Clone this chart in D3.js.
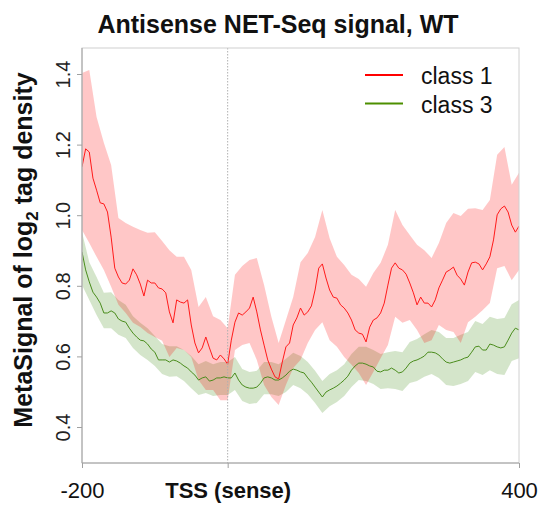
<!DOCTYPE html>
<html><head><meta charset="utf-8">
<script src="https://cdn.jsdelivr.net/npm/d3@7"></script>
<style>body{margin:0;background:#fff} text{font-family:Arial,"Liberation Sans",Helvetica,sans-serif}</style>
</head><body><svg id="c" width="549" height="506"></svg>
<script>
// ---- data ----
const xStart = -200, xEnd = 400;
const meanStep = 5, bandStep = 10;
const seriesNames = ["class 1", "class 3"];
const class1Mean = [1.137,1.188,1.179,1.105,1.071,1.035,1.032,1.009,0.938,0.850,0.825,0.808,0.805,0.816,0.848,0.831,0.805,0.771,0.816,0.808,0.808,0.794,0.791,0.780,0.726,0.695,0.760,0.754,0.751,0.760,0.689,0.638,0.610,0.624,0.655,0.624,0.595,0.590,0.604,0.593,0.578,
0.646,0.697,0.723,0.717,0.726,0.737,0.768,0.726,0.675,0.632,0.590,0.564,0.542,0.536,0.584,0.627,0.638,0.689,0.709,0.737,0.717,0.726,0.743,0.788,0.850,0.862,0.822,0.788,0.768,0.765,0.746,0.737,0.723,0.703,0.675,0.666,0.663,0.641,0.683,0.703,
0.709,0.723,0.751,0.802,0.850,0.865,0.850,0.845,0.833,0.808,0.780,0.746,0.768,0.751,0.751,0.740,0.760,0.794,0.816,0.839,0.845,0.853,0.830,0.819,0.802,0.839,0.865,0.867,0.862,0.845,0.862,0.882,0.930,1.001,1.018,1.026,1.009,0.972,0.952,0.969];
const class1Upper = [1.403,1.411,1.278,1.205,1.142,0.992,0.978,0.967,0.958,0.950,0.952,0.927,0.901,0.882,0.882,0.845,0.740,0.768,0.714,0.703,0.680,0.831,0.856,0.873,0.879,0.802,0.712,0.638,0.703,0.768,0.867,0.893,0.938,1.015,0.935,0.882,0.859,0.831,0.819,0.797,0.836,0.865,0.916,1.015,0.972,0.944,0.916,0.901,0.879,0.921,0.978,1.006,0.998,1.018,1.020,1.015,1.043,1.171,1.193,1.086,1.120];
const class1Lower = [0.958,0.921,0.882,0.845,0.797,0.746,0.723,0.695,0.683,0.666,0.655,0.644,0.598,0.624,0.618,0.598,0.533,0.505,0.505,0.476,0.476,0.618,0.632,0.638,0.590,0.519,0.485,0.462,0.519,0.567,0.590,0.638,0.675,0.697,0.646,0.627,0.598,0.576,0.553,0.519,0.556,0.595,0.632,0.712,0.695,0.703,0.675,0.638,0.646,0.689,0.675,0.669,0.638,0.697,0.712,0.731,0.751,0.850,0.856,0.816,0.845];
const class3Mean = [0.896,0.845,0.811,0.782,0.768,0.751,0.723,0.723,0.729,0.723,0.706,0.700,0.697,0.680,0.666,0.655,0.646,0.644,0.635,0.621,0.612,0.590,0.590,0.590,0.584,0.590,0.587,0.581,0.573,0.567,0.556,0.547,0.533,0.539,0.542,0.530,0.533,0.539,0.539,0.542,0.539,
0.539,0.553,0.533,0.519,0.513,0.510,0.510,0.513,0.524,0.539,0.542,0.539,0.533,0.533,0.539,0.547,0.558,0.564,0.561,0.556,0.553,0.539,0.527,0.513,0.499,0.485,0.499,0.505,0.510,0.516,0.524,0.533,0.544,0.561,0.573,0.581,0.581,0.578,0.573,0.570,
0.558,0.556,0.561,0.561,0.567,0.561,0.553,0.556,0.567,0.581,0.587,0.590,0.595,0.601,0.612,0.612,0.610,0.604,0.593,0.584,0.581,0.584,0.587,0.590,0.595,0.598,0.612,0.627,0.629,0.618,0.618,0.635,0.632,0.627,0.624,0.627,0.646,0.666,0.680,0.675];
const class3Upper = [0.952,0.867,0.825,0.780,0.782,0.760,0.746,0.714,0.695,0.680,0.658,0.635,0.629,0.629,0.618,0.601,0.578,0.587,0.578,0.584,0.584,0.598,0.564,0.556,0.559,0.584,0.584,0.578,0.593,0.610,0.601,0.584,0.559,0.530,0.550,0.561,0.578,0.607,0.627,0.627,0.618,0.607,0.612,0.615,0.612,0.641,0.649,0.663,0.675,0.669,0.652,0.652,0.661,0.669,0.700,0.692,0.712,0.706,0.709,0.748,0.760];
const class3Lower = [0.802,0.760,0.717,0.680,0.680,0.661,0.652,0.624,0.604,0.590,0.573,0.550,0.542,0.544,0.530,0.510,0.491,0.496,0.488,0.491,0.491,0.505,0.474,0.465,0.468,0.493,0.493,0.488,0.499,0.519,0.510,0.493,0.468,0.440,0.459,0.471,0.488,0.513,0.533,0.530,0.522,0.508,0.510,0.508,0.502,0.525,0.530,0.542,0.550,0.539,0.519,0.516,0.522,0.530,0.556,0.547,0.561,0.550,0.547,0.587,0.595];
const yTickValues = [0.4, 0.6, 0.8, 1.0, 1.2, 1.4];
const xTickValues = [-200, 0, 400];
const xTickLabels = ["-200", "TSS (sense)", "400"];

// ---- drawing ----
const svg = d3.select("#c");
const L = 82, R = 519, T = 48, B = 463;
const x = d3.scaleLinear().domain([xStart, xEnd]).range([L, R]);
const y = d3.scaleLinear().domain([0.4, 1.4]).range([427, 74]);

const meanPts = arr => arr.map((v, i) => [xStart + i * meanStep, v]);
const bandPts = (lo, hi) => lo.map((v, i) => [xStart + i * bandStep, v, hi[i]]);

const area = d3.area().x(d => x(d[0])).y0(d => y(d[1])).y1(d => y(d[2]));
const line = d3.line().x(d => x(d[0])).y(d => y(d[1]));

const clip = svg.append("clipPath").attr("id", "pc").append("rect")
  .attr("x", L).attr("y", T).attr("width", R - L).attr("height", B - T);
const g = svg.append("g").attr("clip-path", "url(#pc)");

g.append("path").datum(bandPts(class3Lower, class3Upper)).attr("d", area)
  .attr("fill", "rgb(77,146,33)").attr("fill-opacity", 0.24);
g.append("path").datum(bandPts(class1Lower, class1Upper)).attr("d", area)
  .attr("fill", "rgb(255,0,0)").attr("fill-opacity", 0.22);

// TSS dotted line
svg.append("line").attr("x1", x(0)).attr("x2", x(0)).attr("y1", T).attr("y2", B)
  .attr("stroke", "#b0b0b0").attr("stroke-width", 1).attr("stroke-dasharray", "1.5,1.5");

g.append("path").datum(meanPts(class3Mean)).attr("d", line)
  .attr("fill", "none").attr("stroke", "#4a8c1c").attr("stroke-width", 1);
g.append("path").datum(meanPts(class1Mean)).attr("d", line)
  .attr("fill", "none").attr("stroke", "#ff1a1a").attr("stroke-width", 1);

// box
svg.append("rect").attr("x", L).attr("y", T).attr("width", R - L).attr("height", B - T)
  .attr("fill", "none").attr("stroke", "#d0d0d0").attr("stroke-width", 1);

// y axis
const yAxis = svg.append("g").attr("transform", `translate(${L},0)`)
  .call(d3.axisLeft(y).tickValues(yTickValues).tickFormat(d3.format(".1f")).tickSize(5).tickSizeOuter(0));
yAxis.select(".domain").attr("stroke", "#a0a0a0").attr("d", `M0,${T}V${B}`);
yAxis.selectAll(".tick line").attr("stroke", "#a0a0a0");
yAxis.selectAll(".tick text")
  .attr("transform", "rotate(-90)").attr("x", 0).attr("y", -12).attr("dy", 0)
  .attr("text-anchor", "middle").attr("font-size", 20).attr("fill", "#222")
  .style("font-family", "Arial, 'Liberation Sans', sans-serif");

// x axis
const xAxis = svg.append("g").attr("transform", `translate(0,${B})`)
  .call(d3.axisBottom(x).tickValues(xTickValues).tickFormat((d, i) => xTickLabels[i]).tickSize(5).tickSizeOuter(0));
xAxis.select(".domain").attr("stroke", "#a0a0a0").attr("d", `M${L},0H${R}`);
xAxis.selectAll(".tick line").attr("stroke", "#a0a0a0");
xAxis.selectAll(".tick text")
  .attr("y", 35).attr("dy", 0).attr("font-size", 22).attr("fill", "#111")
  .attr("font-weight", (d, i) => i === 1 ? "bold" : "normal")
  .style("font-family", "Arial, 'Liberation Sans', sans-serif");

// title
svg.append("text").attr("x", 278).attr("y", 33).attr("text-anchor", "middle")
  .attr("font-size", 25).attr("font-weight", "bold").attr("fill", "#111")
  .text("Antisense NET-Seq signal, WT");

// y label
const yl = svg.append("text").attr("transform", "translate(32,250) rotate(-90)")
  .attr("text-anchor", "middle").attr("font-size", 25).attr("font-weight", "bold").attr("fill", "#111");
yl.append("tspan").text("MetaSignal of log");
yl.append("tspan").attr("font-size", 17).attr("dy", 6).text("2");
yl.append("tspan").attr("dy", -6).text(" tag density");

// legend
const legColors = ["#ff0000", "#4d8f00"];
const leg = svg.append("g");
seriesNames.forEach((n, i) => {
  const yy = 75 + i * 28.5;
  leg.append("line").attr("x1", 365).attr("x2", 403).attr("y1", yy).attr("y2", yy)
    .attr("stroke", legColors[i]).attr("stroke-width", 2);
  leg.append("text").attr("x", 421).attr("y", yy + 9).attr("font-size", 23).attr("fill", "#111").text(n);
});
</script></body></html>
